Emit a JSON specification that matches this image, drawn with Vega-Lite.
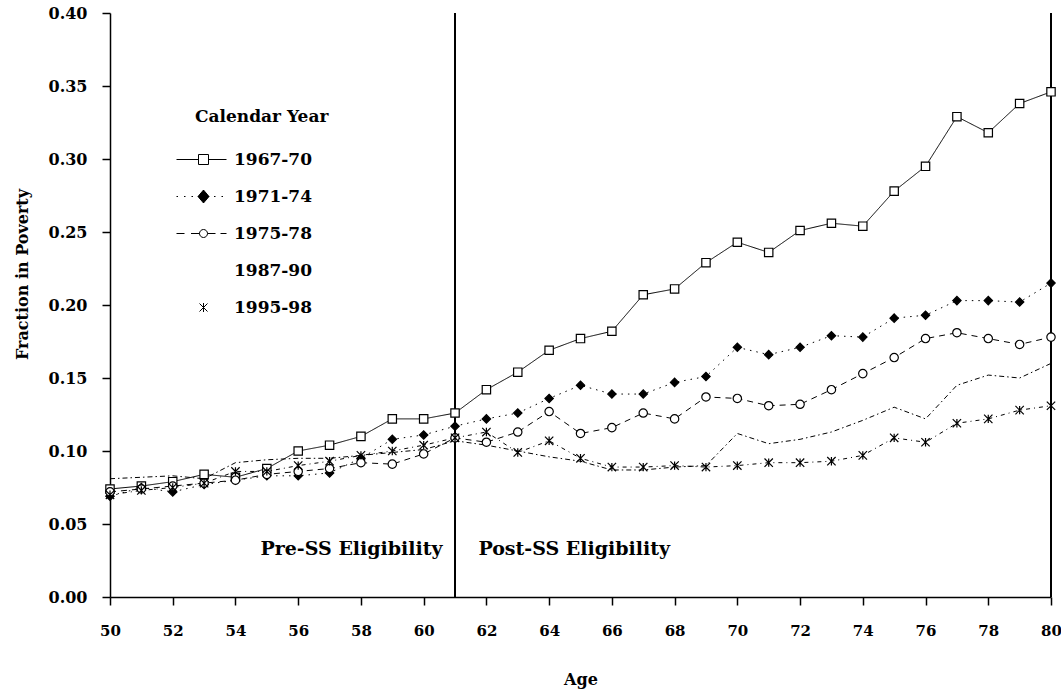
{
  "$schema": "https://vega.github.io/schema/vega-lite/v6.json",
  "width": 941,
  "height": 584,
  "autosize": {"type": "none"},
  "padding": {"left": 110, "top": 13, "right": 10, "bottom": 101},
  "background": "white",
  "config": {
    "view": {"stroke": null},
    "font": "DejaVu Serif",
    "axis": {
      "labelFont": "DejaVu Serif", "labelFontWeight": "bold", "labelFontSize": 16, "labelColor": "black",
      "titleFont": "DejaVu Serif", "titleFontWeight": "bold", "titleFontSize": 16, "titleColor": "black",
      "domainColor": "black", "tickColor": "black", "domainWidth": 1.5, "tickWidth": 1.5, "tickSize": 8, "grid": false
    },
    "text": {"font": "DejaVu Serif"}
  },
  "datasets": {
    "poverty": [
      {"age": 50, "1967-70": 0.074, "1971-74": 0.069, "1975-78": 0.072, "1987-90": 0.081, "1995-98": 0.070},
      {"age": 51, "1967-70": 0.076, "1971-74": 0.075, "1975-78": 0.074, "1987-90": 0.082, "1995-98": 0.073},
      {"age": 52, "1967-70": 0.079, "1971-74": 0.072, "1975-78": 0.076, "1987-90": 0.083, "1995-98": 0.075},
      {"age": 53, "1967-70": 0.084, "1971-74": 0.077, "1975-78": 0.078, "1987-90": 0.081, "1995-98": 0.078},
      {"age": 54, "1967-70": 0.082, "1971-74": 0.080, "1975-78": 0.080, "1987-90": 0.092, "1995-98": 0.086},
      {"age": 55, "1967-70": 0.088, "1971-74": 0.083, "1975-78": 0.084, "1987-90": 0.094, "1995-98": 0.086},
      {"age": 56, "1967-70": 0.100, "1971-74": 0.083, "1975-78": 0.086, "1987-90": 0.095, "1995-98": 0.090},
      {"age": 57, "1967-70": 0.104, "1971-74": 0.085, "1975-78": 0.088, "1987-90": 0.095, "1995-98": 0.093},
      {"age": 58, "1967-70": 0.110, "1971-74": 0.095, "1975-78": 0.092, "1987-90": 0.097, "1995-98": 0.097},
      {"age": 59, "1967-70": 0.122, "1971-74": 0.108, "1975-78": 0.091, "1987-90": 0.099, "1995-98": 0.100},
      {"age": 60, "1967-70": 0.122, "1971-74": 0.111, "1975-78": 0.098, "1987-90": 0.101, "1995-98": 0.104},
      {"age": 61, "1967-70": 0.126, "1971-74": 0.117, "1975-78": 0.109, "1987-90": 0.107, "1995-98": 0.109},
      {"age": 62, "1967-70": 0.142, "1971-74": 0.122, "1975-78": 0.106, "1987-90": 0.104, "1995-98": 0.113},
      {"age": 63, "1967-70": 0.154, "1971-74": 0.126, "1975-78": 0.113, "1987-90": 0.100, "1995-98": 0.099},
      {"age": 64, "1967-70": 0.169, "1971-74": 0.136, "1975-78": 0.127, "1987-90": 0.096, "1995-98": 0.107},
      {"age": 65, "1967-70": 0.177, "1971-74": 0.145, "1975-78": 0.112, "1987-90": 0.093, "1995-98": 0.095},
      {"age": 66, "1967-70": 0.182, "1971-74": 0.139, "1975-78": 0.116, "1987-90": 0.087, "1995-98": 0.089},
      {"age": 67, "1967-70": 0.207, "1971-74": 0.139, "1975-78": 0.126, "1987-90": 0.087, "1995-98": 0.089},
      {"age": 68, "1967-70": 0.211, "1971-74": 0.147, "1975-78": 0.122, "1987-90": 0.089, "1995-98": 0.090},
      {"age": 69, "1967-70": 0.229, "1971-74": 0.151, "1975-78": 0.137, "1987-90": 0.090, "1995-98": 0.089},
      {"age": 70, "1967-70": 0.243, "1971-74": 0.171, "1975-78": 0.136, "1987-90": 0.112, "1995-98": 0.090},
      {"age": 71, "1967-70": 0.236, "1971-74": 0.166, "1975-78": 0.131, "1987-90": 0.105, "1995-98": 0.092},
      {"age": 72, "1967-70": 0.251, "1971-74": 0.171, "1975-78": 0.132, "1987-90": 0.108, "1995-98": 0.092},
      {"age": 73, "1967-70": 0.256, "1971-74": 0.179, "1975-78": 0.142, "1987-90": 0.113, "1995-98": 0.093},
      {"age": 74, "1967-70": 0.254, "1971-74": 0.178, "1975-78": 0.153, "1987-90": 0.121, "1995-98": 0.097},
      {"age": 75, "1967-70": 0.278, "1971-74": 0.191, "1975-78": 0.164, "1987-90": 0.130, "1995-98": 0.109},
      {"age": 76, "1967-70": 0.295, "1971-74": 0.193, "1975-78": 0.177, "1987-90": 0.122, "1995-98": 0.106},
      {"age": 77, "1967-70": 0.329, "1971-74": 0.203, "1975-78": 0.181, "1987-90": 0.145, "1995-98": 0.119},
      {"age": 78, "1967-70": 0.318, "1971-74": 0.203, "1975-78": 0.177, "1987-90": 0.152, "1995-98": 0.122},
      {"age": 79, "1967-70": 0.338, "1971-74": 0.202, "1975-78": 0.173, "1987-90": 0.150, "1995-98": 0.128},
      {"age": 80, "1967-70": 0.346, "1971-74": 0.215, "1975-78": 0.178, "1987-90": 0.160, "1995-98": 0.131}
    ],
    "notes": [
      {"age": 57.7, "frac": 0.033, "label": "Pre-SS Eligibility"},
      {"age": 64.8, "frac": 0.033, "label": "Post-SS Eligibility"}
    ]
  },
  "data": {"name": "poverty"},
  "transform": [
    {"fold": ["1967-70", "1971-74", "1975-78", "1987-90", "1995-98"], "as": ["series", "frac"]}
  ],
  "layer": [
    {
      "mark": {"type": "line", "color": "black", "strokeWidth": 1},
      "encoding": {
        "x": {
          "field": "age", "type": "quantitative", "title": "Age",
          "scale": {"domain": [50, 80], "nice": false, "zero": false},
          "axis": {
            "values": [50,51,52,53,54,55,56,57,58,59,60,61,62,63,64,65,66,67,68,69,70,71,72,73,74,75,76,77,78,79,80],
            "labelExpr": "datum.value % 2 == 0 ? datum.label : ''",
            "labelFontSize": 15,
            "labelFlush": false, "labelOverlap": false, "labelPadding": 18, "titlePadding": 33
          }
        },
        "y": {
          "field": "frac", "type": "quantitative", "title": "Fraction in Poverty",
          "scale": {"domain": [0, 0.4], "nice": false},
          "axis": {
            "values": [0, 0.05, 0.1, 0.15, 0.2, 0.25, 0.3, 0.35, 0.4],
            "format": ".2f", "labelPadding": 15, "titlePadding": 18, "titleY": 261, "labelFlush": false
          }
        },
        "strokeDash": {
          "field": "series", "type": "nominal", "legend": null,
          "scale": {
            "domain": ["1967-70", "1971-74", "1975-78", "1987-90", "1995-98"],
            "range": [[1, 0], [1.5, 5], [6, 5], [5, 3, 1.5, 3], [4, 4, 1, 4]]
          }
        }
      }
    },
    {
      "mark": {"type": "rule", "color": "black", "strokeWidth": 1.5},
      "encoding": {"x": {"datum": 61, "type": "quantitative"}}
    },
    {
      "mark": {"type": "rule", "color": "black", "strokeWidth": 1.5},
      "encoding": {"x": {"datum": 80, "type": "quantitative"}}
    },
    {
      "transform": [{"filter": {"field": "series", "oneOf": ["1967-70", "1971-74", "1975-78", "1995-98"]}}],
      "mark": {"type": "point", "filled": true, "opacity": 1, "stroke": "black", "strokeWidth": 1.2, "size": 70},
      "encoding": {
        "x": {"field": "age", "type": "quantitative"},
        "y": {"field": "frac", "type": "quantitative"},
        "shape": {
          "field": "series", "type": "nominal", "legend": null,
          "scale": {
            "domain": ["1967-70", "1971-74", "1975-78", "1995-98"],
            "range": ["square", "diamond", "circle", "M-1,-1L1,1M-1,1L1,-1M0,-1V1"]
          }
        },
        "fill": {
          "field": "series", "type": "nominal", "legend": null,
          "scale": {
            "domain": ["1967-70", "1971-74", "1975-78", "1995-98"],
            "range": ["white", "black", "white", "black"]
          }
        }
      }
    },
    {
      "transform": [{"filter": "datum.age > 100"}],
      "mark": {"type": "point", "filled": false, "opacity": 1, "color": "black", "strokeWidth": 1},
      "encoding": {
        "x": {"field": "age", "type": "quantitative"},
        "y": {"field": "frac", "type": "quantitative"},
        "shape": {
          "field": "series", "type": "nominal",
          "scale": {
            "domain": ["1967-70", "1971-74", "1975-78", "1987-90", "1995-98"],
            "range": [
              "M-5.4,0L-1,0M1,0L4.6,0M-1,-1L1,-1L1,1L-1,1Z",
              "M-5.4,0h0.3M-3.9,0h0.3M-2.4,0h0.3M2.1,0h0.3M3.6,0h0.3M-0.1,-1.2H0.1M0,-1.3L1.1,0L0,1.3L-1.1,0ZM-0.25,-1H0.25M-0.42,-0.8H0.42M-0.59,-0.6H0.59M-0.76,-0.4H0.76M-0.93,-0.2H0.93M-1.1,0H1.1M-0.93,0.2H0.93M-0.76,0.4H0.76M-0.59,0.6H0.59M-0.42,0.8H0.42M-0.25,1H0.25M-0.1,1.2H0.1",
              "M-5.4,0L-3.8,0M-2.5,0L-0.8,0M0.8,0L2.4,0M3.4,0L4.6,0M-0.8,0A0.8,0.8,0,1,1,0.8,0A0.8,0.8,0,1,1,-0.8,0Z",
              "M0,0L0,0",
              "M-0.8,-0.8L0.8,0.8M-0.8,0.8L0.8,-0.8M0,-0.9V0.9"
            ]
          },
          "legend": {
            "title": "Calendar Year", "orient": "none", "legendX": 85, "legendY": 96,
            "symbolSize": 100, "symbolStrokeColor": "black", "symbolFillColor": "white", "symbolStrokeWidth": 1, "symbolOpacity": 1,
            "labelOffset": 22, "rowPadding": 19, "titlePadding": 25,
            "labelFont": "DejaVu Serif", "labelFontWeight": "bold", "labelFontSize": 17, "labelColor": "black",
            "titleFont": "DejaVu Serif", "titleFontWeight": "bold", "titleFontSize": 17, "titleColor": "black"
          }
        }
      }
    },
    {
      "data": {"name": "notes"},
      "mark": {"type": "text", "font": "DejaVu Serif", "fontWeight": "bold", "fontSize": 19, "color": "black", "align": "center", "baseline": "middle"},
      "encoding": {
        "x": {"field": "age", "type": "quantitative"},
        "y": {"field": "frac", "type": "quantitative"},
        "text": {"field": "label", "type": "nominal"}
      }
    }
  ],
  "resolve": {"scale": {"shape": "independent", "fill": "independent"}}
}
